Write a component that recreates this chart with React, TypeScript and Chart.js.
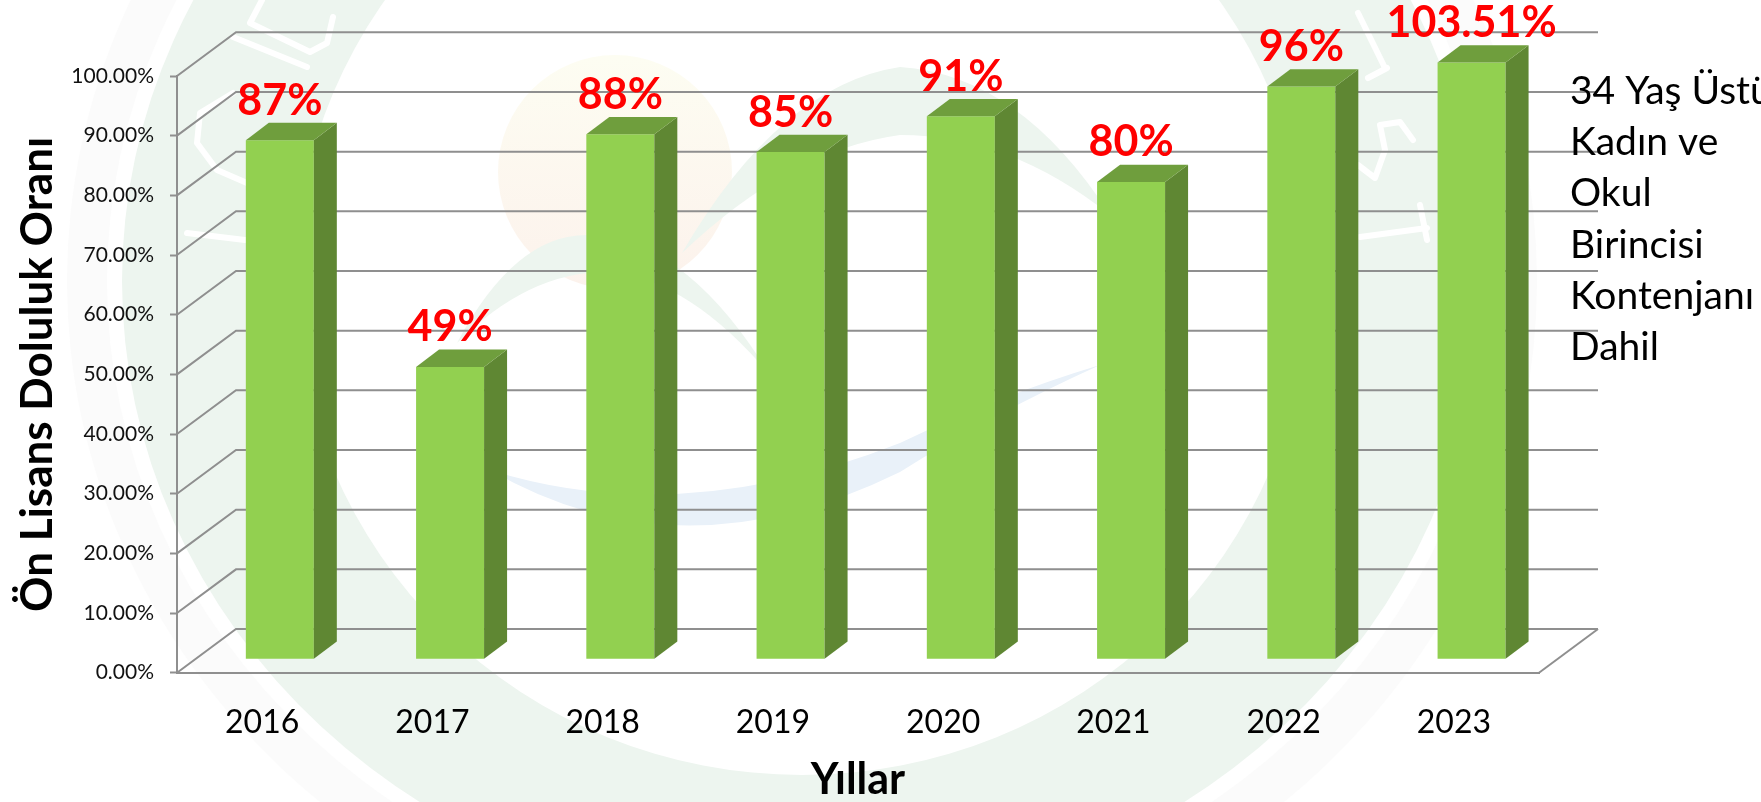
import React, { useEffect, useRef } from "react";
import { Chart, registerables } from "chart.js";

Chart.register(...registerables);

const years = ["2016", "2017", "2018", "2019", "2020", "2021", "2022", "2023"];
const fillRates = [87, 49, 88, 85, 91, 80, 96, 103.51];
const rateLabels = ["87%", "49%", "88%", "85%", "91%", "80%", "96%", "103.51%"];
const noteLines = ["34 Yaş Üstü", "Kadın ve", "Okul", "Birincisi", "Kontenjanı", "Dahil"];

const FONT = "Lato";
const GRID = "#8F8F8F";
const WALL_DX = 59;
const WALL_DY = 43.7;
const BAR_SHIFT_X = 17.7;
const BAR_SHIFT_Y = 13.4;
const DEPTH_X = 23;
const DEPTH_Y = 17.3;

function drawWatermark(ctx: CanvasRenderingContext2D) {
  ctx.save();
  const ring = (a: number, b: number, ai: number, bi: number, color: string) => {
    ctx.beginPath();
    ctx.ellipse(802, 281, a, b, 0, 0, Math.PI * 2);
    ctx.ellipse(802, 281, ai, bi, 0, 0, Math.PI * 2, true);
    ctx.fillStyle = color;
    ctx.fill("evenodd");
  };
  ring(735, 690, 695, 645, "#FBFBFB");
  ring(680, 630, 507, 494, "#EDF5EF");

  // seal lettering, worn white on the ring
  ctx.strokeStyle = "#FFFFFF";
  ctx.lineWidth = 6;
  ctx.lineCap = "round";
  ctx.lineJoin = "round";
  const strokes: number[][][] = [
    [[262, 0], [250, 23], [310, 52], [327, 43], [333, 17]],
    [[233, 37], [307, 67]],
    [[233, 93], [200, 113], [197, 143], [217, 170], [247, 183]],
    [[187, 233], [245, 240]],
    [[1358, 13], [1385, 68]],
    [[1368, 78], [1387, 68]],
    [[1413, 140], [1400, 122], [1380, 125], [1385, 150], [1375, 178], [1358, 165]],
    [[1360, 237], [1427, 228]],
    [[1420, 205], [1427, 240]],
  ];
  for (const path of strokes) {
    ctx.beginPath();
    path.forEach(([x, y], i) => (i ? ctx.lineTo(x, y) : ctx.moveTo(x, y)));
    ctx.stroke();
  }

  const sun = ctx.createLinearGradient(0, 57, 0, 287);
  sun.addColorStop(0, "#FDFDF2");
  sun.addColorStop(1, "#FCF2EC");
  ctx.fillStyle = sun;
  ctx.beginPath();
  ctx.arc(615, 172, 117, 0, Math.PI * 2);
  ctx.fill();

  ctx.fillStyle = "#EDF5EF";
  ctx.beginPath();
  ctx.moveTo(457, 343);
  ctx.quadraticCurveTo(520, 225, 600, 236);
  ctx.quadraticCurveTo(690, 245, 770, 375);
  ctx.quadraticCurveTo(690, 280, 610, 272);
  ctx.quadraticCurveTo(530, 270, 457, 343);
  ctx.fill();

  ctx.beginPath();
  ctx.moveTo(682, 253);
  ctx.quadraticCurveTo(780, 85, 900, 67);
  ctx.quadraticCurveTo(1020, 75, 1110, 215);
  ctx.quadraticCurveTo(1010, 135, 900, 135);
  ctx.quadraticCurveTo(790, 150, 682, 253);
  ctx.fill();

  ctx.fillStyle = "#E9F1F9";
  ctx.beginPath();
  ctx.moveTo(490, 470);
  ctx.quadraticCurveTo(680, 530, 900, 443);
  ctx.quadraticCurveTo(1000, 395, 1100, 365);
  ctx.quadraticCurveTo(990, 415, 900, 472);
  ctx.quadraticCurveTo(680, 580, 490, 470);
  ctx.fill();
  ctx.restore();
}

const chart3d = {
  id: "chart3d",
  beforeDraw(chart: any) {
    const { ctx } = chart;
    ctx.save();
    ctx.fillStyle = "#FFFFFF";
    ctx.fillRect(0, 0, chart.width, chart.height);
    drawWatermark(ctx);
    ctx.restore();
  },
  beforeDatasetsDraw(chart: any) {
    const { ctx, chartArea, scales } = chart;
    ctx.save();
    ctx.strokeStyle = GRID;
    ctx.lineWidth = 2;
    for (const tick of scales.y.ticks) {
      const y = scales.y.getPixelForValue(tick.value);
      ctx.beginPath();
      ctx.moveTo(chartArea.left, y);
      ctx.lineTo(chartArea.left + WALL_DX, y - WALL_DY);
      ctx.lineTo(chartArea.right + WALL_DX, y - WALL_DY);
      ctx.stroke();
    }
    ctx.beginPath();
    ctx.moveTo(chartArea.right, chartArea.bottom);
    ctx.lineTo(chartArea.right + WALL_DX, chartArea.bottom - WALL_DY);
    ctx.stroke();
    ctx.restore();
    ctx.save();
    ctx.translate(BAR_SHIFT_X, -BAR_SHIFT_Y);
  },
  afterDatasetsDraw(chart: any) {
    const { ctx, chartArea } = chart;
    ctx.restore();
    const bars = chart.getDatasetMeta(0).data;
    ctx.save();
    bars.forEach((bar: any, i: number) => {
      const half = bar.width / 2;
      const right = bar.x + half + BAR_SHIFT_X;
      const left = bar.x - half + BAR_SHIFT_X;
      const top = Math.max(bar.y, chartArea.top) - BAR_SHIFT_Y;
      const bottom = bar.base - BAR_SHIFT_Y;
      ctx.fillStyle = "#5F8733";
      ctx.beginPath();
      ctx.moveTo(right, top);
      ctx.lineTo(right + DEPTH_X, top - DEPTH_Y);
      ctx.lineTo(right + DEPTH_X, bottom - DEPTH_Y);
      ctx.lineTo(right, bottom);
      ctx.closePath();
      ctx.fill();
      ctx.fillStyle = "#6F9E3D";
      ctx.beginPath();
      ctx.moveTo(left, top);
      ctx.lineTo(left + DEPTH_X, top - DEPTH_Y);
      ctx.lineTo(right + DEPTH_X, top - DEPTH_Y);
      ctx.lineTo(right, top);
      ctx.closePath();
      ctx.fill();
      ctx.fillStyle = "#FF0000";
      ctx.font = `bold 43px ${FONT}`;
      ctx.textAlign = "center";
      ctx.textBaseline = "alphabetic";
      ctx.fillText(rateLabels[i], left + half, top - 25.5);
    });
    ctx.restore();
  },
  afterDraw(chart: any) {
    const { ctx } = chart;
    ctx.save();
    ctx.fillStyle = "#000000";
    ctx.font = `39px ${FONT}`;
    ctx.textAlign = "left";
    ctx.textBaseline = "alphabetic";
    noteLines.forEach((line, i) => ctx.fillText(line, 1570, 104 + i * 51.2));
    ctx.restore();
  },
};

export default function App() {
  const ref = useRef<HTMLCanvasElement>(null);
  useEffect(() => {
    document.body.style.margin = "0";
    const chart = new Chart(ref.current!, {
      type: "bar",
      data: {
        labels: years,
        datasets: [
          {
            data: fillRates,
            backgroundColor: "#92D050",
            borderWidth: 0,
            barPercentage: 1,
            categoryPercentage: 68 / 170.25,
          },
        ],
      },
      plugins: [chart3d],
      options: {
        responsive: false,
        animation: false,
        layout: { padding: { left: 0, top: 76, right: 222, bottom: 0 } },
        plugins: { legend: { display: false }, tooltip: { enabled: false } },
        scales: {
          x: {
            afterFit: (s: any) => {
              s.height = 129.3;
            },
            grid: { drawOnChartArea: false, drawTicks: false },
            border: { color: GRID, width: 2 },
            ticks: { color: "#000000", padding: 31, font: { family: FONT, size: 32 } },
            title: {
              display: true,
              text: "Yıllar",
              color: "#000000",
              padding: { top: 0, bottom: 0 },
              font: { family: FONT, size: 43, weight: "bold", lineHeight: 1 },
            },
          },
          y: {
            min: 0,
            max: 100,
            afterFit: (s: any) => {
              s.width = 177;
            },
            grid: { drawOnChartArea: false, drawTicks: true, tickLength: 7, tickColor: GRID, tickWidth: 2 },
            border: { color: GRID, width: 2 },
            ticks: {
              stepSize: 10,
              color: "#111111",
              padding: 16,
              font: { family: FONT, size: 21 },
              callback: (v: any) => `${Number(v).toFixed(2)}%`,
            },
            title: {
              display: true,
              text: "Ön Lisans Doluluk Oranı",
              color: "#000000",
              padding: { top: 16, bottom: 0 },
              font: { family: FONT, size: 44, weight: "bold", lineHeight: 1 },
            },
          },
        },
      },
    } as any);
    return () => chart.destroy();
  }, []);
  return <canvas ref={ref} width={1761} height={802} style={{ display: "block" }} />;
}
